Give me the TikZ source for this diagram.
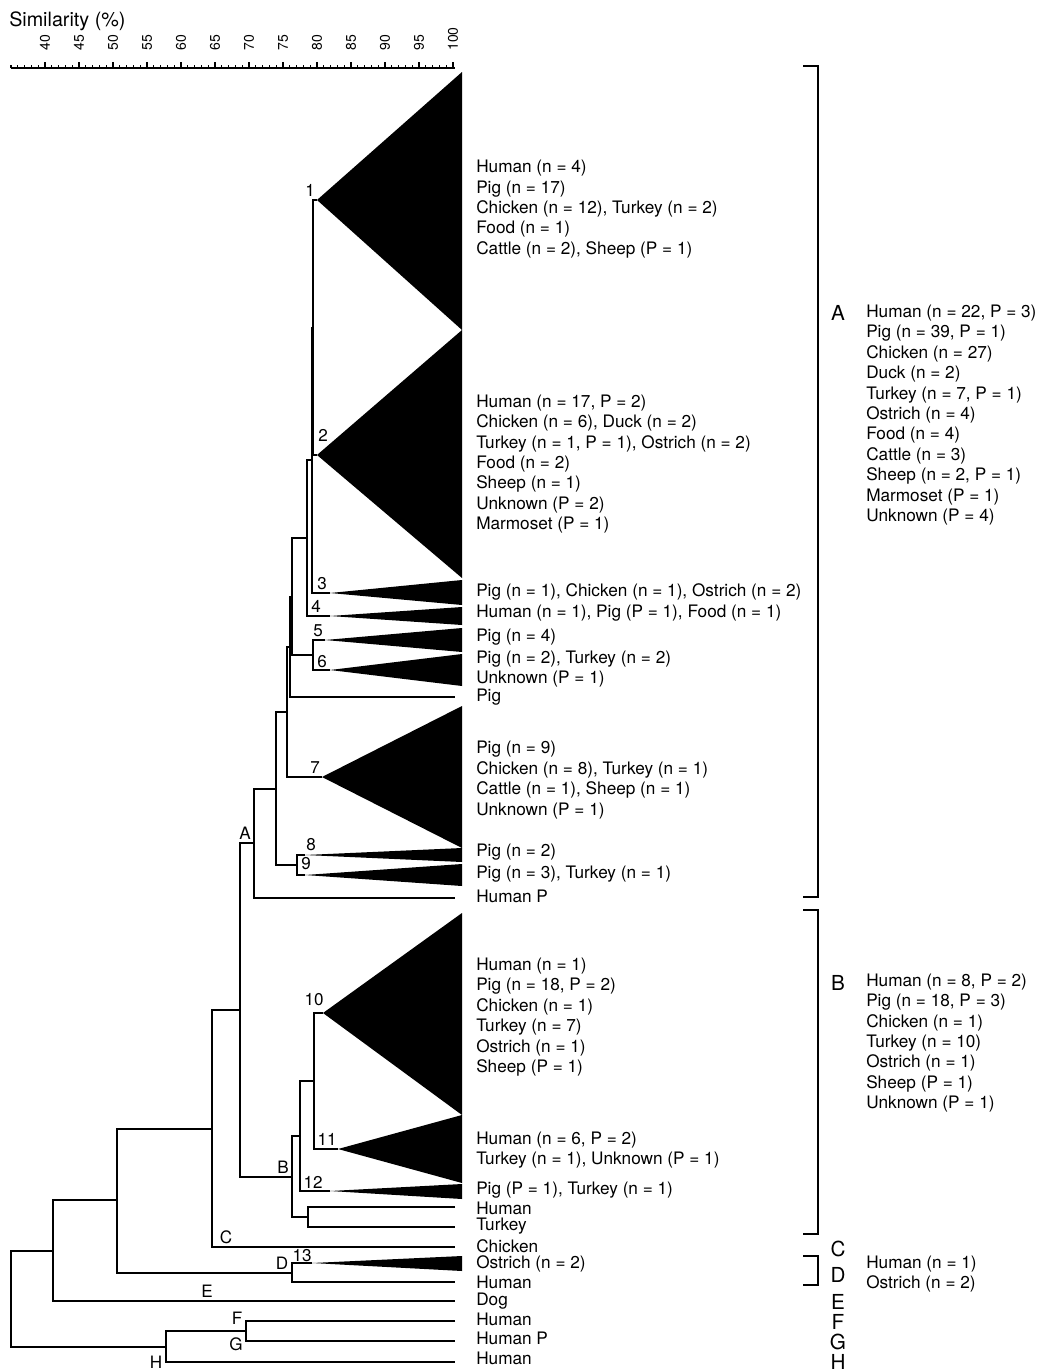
\documentclass[tikz,border=0pt]{standalone}
\usepackage{fontspec}
\setmainfont{TeX Gyre Heros}
\begin{document}
\begin{tikzpicture}[x=0.75pt,y=-0.75pt,
  br/.style={line width=1.5pt,line join=miter},
  wedge/.style={fill=black},
  lbl/.style={inner sep=0pt,font=\fontsize{12.8}{15.3}\selectfont},
  info/.style={inner sep=0pt,anchor=west,align=left,font=\fontsize{12.9}{15.3}\selectfont},
  grp/.style={inner sep=0pt,font=\fontsize{15.5}{16}\selectfont},
  tick/.style={line width=0.8pt},
  bracket/.style={line width=1.4pt}]
\useasboundingbox (0,0) rectangle (1038,1372);
\fill[white] (0,0) rectangle (1038,1372);

% ---------- similarity axis ----------
\node[inner sep=0pt,anchor=west,font=\fontsize{14.8}{16}\selectfont] (title) at (9,21) {Similarity (\%)};
\draw[line width=1.2pt] (11,68) -- (455,68);
\foreach \v in {35,...,100} \draw[tick] ({45+(\v-40)*6.8},68) -- ++(0,-3);
\foreach \v in {40,45,...,100} {
  \draw[tick] ({45+(\v-40)*6.8},68) -- ++(0,-6.5);
  \node[inner sep=0pt,anchor=west,rotate=90,font=\fontsize{10.5}{11}\selectfont] (ax\v) at ({45+(\v-40)*6.8},51) {\v};
}

% ---------- cluster tips ----------
\coordinate (t1) at (317,200);   \coordinate (t2) at (317,455);
\coordinate (t3) at (330,593);   \coordinate (t4) at (330,616);
\coordinate (t5) at (325,640);   \coordinate (t6) at (330,670);
\coordinate (tPig) at (455,697);
\coordinate (t7) at (322,777);
\coordinate (t8) at (305,855);   \coordinate (t9) at (305,875);
\coordinate (tHP) at (455,898);
\coordinate (t10) at (323,1013); \coordinate (t11) at (338,1149);
\coordinate (t12) at (330,1191);
\coordinate (tHu1) at (455,1207); \coordinate (tTu) at (455,1227);
\coordinate (tCh) at (455,1247);
\coordinate (t13) at (312,1263); \coordinate (tHu2) at (455,1282);
\coordinate (tDog) at (455,1301);
\coordinate (tHu3) at (455,1321); \coordinate (tHP2) at (455,1341);
\coordinate (tHu4) at (455,1362);

% ---------- merge points ----------
\coordinate (n12) at (313,327.5);
\coordinate (n123) at (312,460);
\coordinate (n1234) at (307,538);
\coordinate (n56) at (313,655);
\coordinate (n16) at (292,596.5);
\coordinate (n16p) at (290,647);
\coordinate (n17) at (287,712);
\coordinate (n89) at (297,865);
\coordinate (n19) at (276,788.5);
\coordinate (nA) at (254,843);
\coordinate (n1011) at (314,1081);
\coordinate (n1012) at (300,1136);
\coordinate (nHT) at (308,1217);
\coordinate (nB) at (292,1176.5);
\coordinate (nAB) at (240,1010);
\coordinate (nC) at (212,1128.5);
\coordinate (nD) at (292,1272.5);
\coordinate (nCD) at (117,1200);
\coordinate (nE) at (53,1250.5);
\coordinate (nFG) at (246,1331);
\coordinate (nH) at (166,1346.5);
\coordinate (root) at (11,1298.5);

% ---------- dendrogram branches ----------
\draw[br] (t1) -| (n12) |- (t2);
\draw[br] (n12) -| (n123) |- (t3);
\draw[br] (n123) -| (n1234) |- (t4);
\draw[br] (t5) -| (n56) |- (t6);
\draw[br] (n1234) -| (n16) |- (n56);
\draw[br] (n16) -| (n16p) |- (tPig);
\draw[br] (n16p) -| (n17) |- (t7);
\draw[br] (t8) -| (n89) |- (t9);
\draw[br] (n17) -| (n19) |- (n89);
\draw[br] (n19) -| (nA) |- (tHP);
\draw[br] (t10) -| (n1011) |- (t11);
\draw[br] (n1011) -| (n1012) |- (t12);
\draw[br] (tHu1) -| (nHT) |- (tTu);
\draw[br] (n1012) -| (nB) |- (nHT);
\draw[br] (nA) -| (nAB) |- (nB);
\draw[br] (nAB) -| (nC) |- (tCh);
\draw[br] (t13) -| (nD) |- (tHu2);
\draw[br] (nC) -| (nCD) |- (nD);
\draw[br] (nCD) -| (nE) |- (tDog);
\draw[br] (tHu3) -| (nFG) |- (tHP2);
\draw[br] (nFG) -| (nH) |- (tHu4);
\draw[br] (nE) -| (root) |- (nH);

% ---------- collapsed clusters ----------
\fill[wedge] (t1) -- (462,72) -- (462,330) -- cycle;
\fill[wedge] (t2) -- (462,330) -- (462,578) -- cycle;
\fill[wedge] (t3) -- (462,580) -- (462,605) -- cycle;
\fill[wedge] (t4) -- (462,607) -- (462,625) -- cycle;
\fill[wedge] (t5) -- (462,628) -- (462,652) -- cycle;
\fill[wedge] (t6) -- (462,654) -- (462,686) -- cycle;
\fill[wedge] (t7) -- (462,706) -- (462,848) -- cycle;
\fill[wedge] (t8) -- (462,848) -- (462,862) -- cycle;
\fill[wedge] (t9) -- (462,864) -- (462,886) -- cycle;
\fill[wedge] (t10) -- (462,913) -- (462,1115) -- cycle;
\fill[wedge] (t11) -- (462,1115) -- (462,1183) -- cycle;
\fill[wedge] (t12) -- (462,1184) -- (462,1199) -- cycle;
\fill[wedge] (t13) -- (462,1256) -- (462,1271) -- cycle;

% ---------- branch labels ----------
\node[lbl] (l1) at (310,190) {1};
\node[lbl] (l2) at (323,435) {2};
\node[lbl] (l3) at (322,584) {3};
\node[lbl] (l4) at (316,606) {4};
\node[lbl] (l5) at (318,631) {5};
\node[lbl] (l6) at (322,662) {6};
\node[lbl] (l7) at (315,768) {7};
\node[lbl] (l8) at (311,845) {8};
\node[lbl] (l9) at (306,864) {9};
\node[lbl] (lA) at (245,833) {A};
\node[lbl] (l10) at (314,1000) {10};
\node[lbl] (l11) at (327,1139) {11};
\node[lbl] (lB) at (283,1167) {B};
\node[lbl] (l12) at (313,1182) {12};
\node[lbl] (lC) at (226,1237) {C};
\node[lbl] (l13) at (302,1256) {13};
\node[lbl] (lD) at (282,1263) {D};
\node[lbl] (lE) at (207,1291) {E};
\node[lbl] (lF) at (237,1318) {F};
\node[lbl] (lG) at (236,1344) {G};
\node[lbl] (lH) at (156,1362) {H};

% ---------- isolate descriptions ----------
\node[info] (d1) at (476,209) {Human (n = 4)\\Pig (n = 17)\\Chicken (n = 12), Turkey (n = 2)\\Food (n = 1)\\Cattle (n = 2), Sheep (P = 1)};
\node[info] (d2) at (476,464) {Human (n = 17, P = 2)\\Chicken (n = 6), Duck (n = 2)\\Turkey (n = 1, P = 1), Ostrich (n = 2)\\Food (n = 2)\\Sheep (n = 1)\\Unknown (P = 2)\\Marmoset (P = 1)};
\node[info] (d3) at (476,592) {Pig (n = 1), Chicken (n = 1), Ostrich (n = 2)};
\node[info] (d4) at (476,613) {Human (n = 1), Pig (P = 1), Food (n = 1)};
\node[info] (d5) at (476,637) {Pig (n = 4)};
\node[info] (d6) at (476,669) {Pig (n = 2), Turkey (n = 2)\\Unknown (P = 1)};
\node[info] (dPig) at (476,697) {Pig};
\node[info] (d7) at (476,780) {Pig (n = 9)\\Chicken (n = 8), Turkey (n = 1)\\Cattle (n = 1), Sheep (n = 1)\\Unknown (P = 1)};
\node[info] (d8) at (476,852) {Pig (n = 2)};
\node[info] (d9) at (476,874) {Pig (n = 3), Turkey (n = 1)};
\node[info] (dHP) at (476,896) {Human P};
\node[info] (d10) at (476,1017) {Human (n = 1)\\Pig (n = 18, P = 2)\\Chicken (n = 1)\\Turkey (n = 7)\\Ostrich (n = 1)\\Sheep (P = 1)};
\node[info] (d11) at (476,1150) {Human (n = 6, P = 2)\\Turkey (n = 1), Unknown (P = 1)};
\node[info] (d12) at (476,1190) {Pig (P = 1), Turkey (n = 1)};
\node[info] (dHu1) at (476,1208) {Human};
\node[info] (dTu) at (476,1226) {Turkey};
\node[info] (dCh) at (476,1246) {Chicken};
\node[info] (d13) at (476,1264) {Ostrich (n = 2)};
\node[info] (dHu2) at (476,1282) {Human};
\node[info] (dDog) at (476,1301) {Dog};
\node[info] (dHu3) at (476,1319) {Human};
\node[info] (dHP2) at (476,1338) {Human P};
\node[info] (dHu4) at (476,1358) {Human};

% ---------- group brackets ----------
\draw[bracket] (803,66) -- (818,66) -- (818,897) -- (803,897);
\draw[bracket] (803,910) -- (818,910) -- (818,1234) -- (803,1234);
\draw[bracket] (803,1256) -- (818,1256) -- (818,1285) -- (803,1285);

\node[grp] (gA) at (838,313) {A};
\node[grp] (gB) at (838,983) {B};
\node[grp] (gC) at (838,1249) {C};
\node[grp] (gD) at (838,1275) {D};
\node[grp] (gE) at (838,1302) {E};
\node[grp] (gF) at (838,1322) {F};
\node[grp] (gG) at (838,1342) {G};
\node[grp] (gH) at (838,1362) {H};

\node[info] (sA) at (866,415) {Human (n = 22, P = 3)\\Pig (n = 39, P = 1)\\Chicken (n = 27)\\Duck (n = 2)\\Turkey (n = 7, P = 1)\\Ostrich (n = 4)\\Food (n = 4)\\Cattle (n = 3)\\Sheep (n = 2, P = 1)\\Marmoset (P = 1)\\Unknown (P = 4)};
\node[info] (sB) at (866,1043) {Human (n = 8, P = 2)\\Pig (n = 18, P = 3)\\Chicken (n = 1)\\Turkey (n = 10)\\Ostrich (n = 1)\\Sheep (P = 1)\\Unknown (P = 1)};
\node[info] (sD) at (866,1274) {Human (n = 1)\\Ostrich (n = 2)};
\end{tikzpicture}
\end{document}
